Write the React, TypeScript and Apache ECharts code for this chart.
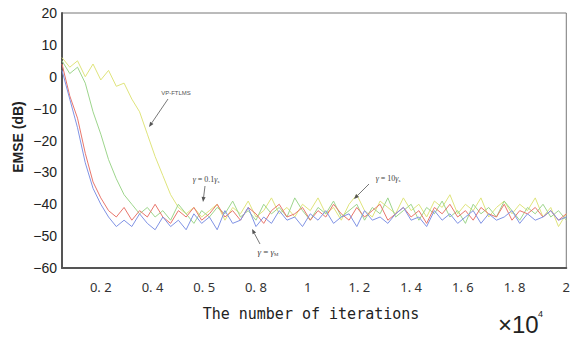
import React, { useEffect, useRef } from "react";
import * as echarts from "echarts";

// iterations axis (×10^4)
const iterStart = 0.05;
const iterStep = 0.03;
const xTickValues = [0.2, 0.4, 0.6, 0.8, 1.0, 1.2, 1.4, 1.6, 1.8, 2.0];
const xTickLabels = ["0. 2", "0. 4", "0. 5", "0. 8", "1", "1. 2", "1. 4", "1. 6", "1. 8", "2"];

const redValues = [
  4, -6, -13, -24, -33, -38, -42, -44,
  -41, -45, -42, -44, -40, -44, -46, -42, -44, -41,
  -45, -43, -40, -44, -42, -45, -41, -43, -46, -42,
  -40, -44, -43, -41, -45, -42, -44, -40, -43, -45,
  -41, -44, -42, -40, -45, -43, -41, -44, -42, -46,
  -41, -43, -40, -44, -42, -45, -41, -43, -44, -40,
  -45, -42, -43, -41, -44, -42, -45, -43,
];
const blueValues = [
  2, -7, -16, -27, -35, -40, -44, -47,
  -45, -47, -43, -46, -48, -44, -47, -45, -48, -43,
  -46, -44, -48, -42, -46, -45, -41, -47, -44, -46,
  -42, -45, -44, -47, -43, -45, -42, -46, -44, -43,
  -47, -42, -45, -44, -46, -43, -41, -45, -44, -47,
  -42, -45, -43, -46, -44, -42, -46, -43, -45, -44,
  -42, -46, -43, -45, -44, -42, -45, -44,
];
const greenValues = [
  5, 1, 3, -2, -11, -18, -26, -32, -37, -40, -43,
  -41, -44, -42, -45, -40, -43, -46, -42, -44, -41,
  -43, -39, -44, -42, -45, -40, -43, -41, -44, -38,
  -42, -45, -41, -43, -39, -44, -42, -40, -45, -41,
  -43, -38, -44, -42, -40, -45, -41, -43, -39, -44,
  -42, -46, -40, -43, -41, -44, -39, -42, -45, -41,
  -43, -40, -44, -42, -45,
];
const yellowValues = [
  6, 3, 5, 0, 4, -1, 2, -3, -2, -7, -11, -18, -25, -31, -37, -41, -43,
  -41, -44, -42, -40, -45, -41, -43, -39, -44, -42,
  -38, -43, -41, -44, -40, -42, -38, -43, -41, -45,
  -40, -37, -42, -44, -39, -41, -43, -38, -42, -40,
  -44, -39, -41, -37, -43, -40, -42, -38, -44, -41,
  -39, -43, -40, -42, -38, -44, -41, -47, -43,
];

const seriesDefs = [
  { name: "VP-FTLMS", values: yellowValues, color: "#dfe47c" },
  { name: "γ=10γs", values: greenValues, color: "#9dd58c" },
  { name: "γ=0.1γs", values: redValues, color: "#e8766c" },
  { name: "γ=γM", values: blueValues, color: "#8093e4" },
];

const toPairs = (vals: number[]) =>
  vals.map((v, i) => [+(iterStart + i * iterStep).toFixed(3), v]);

function arrow(x1: number, y1: number, x2: number, y2: number) {
  const ang = Math.atan2(y2 - y1, x2 - x1);
  const L = 5, W = 2;
  const bx = x2 - L * Math.cos(ang), by = y2 - L * Math.sin(ang);
  const px = -Math.sin(ang) * W, py = Math.cos(ang) * W;
  return [
    { type: "line", shape: { x1, y1, x2: bx, y2: by }, style: { stroke: "#555", lineWidth: 0.8 }, z: 20 },
    {
      type: "polygon",
      shape: { points: [[x2, y2], [bx + px, by + py], [bx - px, by - py]] },
      style: { fill: "#555" },
      z: 20,
    },
  ];
}

const gammaRich = {
  g: { fontFamily: "Liberation Serif", fontStyle: "italic", fontSize: 8, fill: "#444" },
  t: { fontFamily: "Liberation Serif", fontSize: 8, fill: "#444" },
  s: { fontFamily: "Liberation Serif", fontSize: 5, fill: "#444", padding: [4, 0, 0, 0] },
};

export default function App() {
  const ref = useRef<HTMLDivElement>(null);
  useEffect(() => {
    if (!ref.current) return;
    const chart = echarts.init(ref.current, undefined, { renderer: "svg" });
    chart.setOption({
      animation: false,
      backgroundColor: "#ffffff",
      grid: {
        left: 62, top: 13, right: 1, bottom: 70,
        show: true, borderColor: "#777", borderWidth: 1,
      },
      xAxis: {
        type: "value",
        min: iterStart,
        max: 2.0,
        axisLine: { show: true, onZero: false, lineStyle: { color: "#555", width: 2 } },
        axisTick: { show: false },
        splitLine: { show: false },
        axisLabel: {
          customValues: xTickValues,
          margin: 12,
          fontFamily: "Noto Sans",
          fontSize: 13,
          color: "#333",
          formatter: (v: number) => {
            const k = xTickValues.findIndex((t) => Math.abs(t - v) < 1e-6);
            return k >= 0 ? xTickLabels[k] : "";
          },
        },
      },
      yAxis: {
        type: "value",
        min: -60,
        max: 20,
        interval: 10,
        axisLine: { show: true, onZero: false, lineStyle: { color: "#555", width: 2 } },
        axisTick: { show: false },
        splitLine: { show: false },
        axisLabel: {
          margin: 5,
          fontFamily: "Liberation Sans",
          fontSize: 14,
          color: "#222",
          formatter: (v: number) => String(v).replace("-", "\u2212"),
        },
      },
      series: seriesDefs.map((s) => ({
        type: "line",
        name: s.name,
        data: toPairs(s.values),
        symbol: "none",
        silent: true,
        lineStyle: { color: s.color, width: 1 },
      })),
      graphic: [
        {
          type: "text", x: 18, y: 137, rotation: Math.PI / 2,
          style: {
            text: "EMSE (dB)", fontFamily: "Liberation Sans", fontWeight: "bold",
            fontSize: 14, fill: "#222", align: "center", verticalAlign: "middle",
          },
        },
        {
          type: "text", x: 311, y: 314,
          style: {
            text: "The number of iterations", fontFamily: "DejaVu Sans Mono",
            fontSize: 15, fill: "#222", align: "center", verticalAlign: "middle",
          },
        },
        {
          type: "text", x: 498, y: 324,
          style: {
            text: "×10", fontFamily: "Liberation Sans", fontSize: 24, fill: "#222",
            align: "left", verticalAlign: "middle",
          },
        },
        {
          type: "text", x: 538, y: 314,
          style: {
            text: "4", fontFamily: "Liberation Sans", fontSize: 9, fill: "#222",
            align: "left", verticalAlign: "middle",
          },
        },
        {
          type: "text", x: 176, y: 93,
          style: {
            text: "VP-FTLMS", fontFamily: "Liberation Sans", fontSize: 6, fill: "#555",
            align: "center", verticalAlign: "middle",
          },
        },
        ...arrow(168, 99, 149, 127),
        {
          type: "text", x: 206, y: 179,
          style: {
            text: "{g|γ}{t| = 0.1}{g|γ}{s|s}", rich: gammaRich,
            align: "center", verticalAlign: "middle",
          },
        },
        ...arrow(205, 186, 203, 202),
        {
          type: "text", x: 388, y: 178,
          style: {
            text: "{g|γ}{t| = 10}{g|γ}{s|s}", rich: gammaRich,
            align: "center", verticalAlign: "middle",
          },
        },
        ...arrow(369, 184, 354, 199),
        {
          type: "text", x: 268, y: 252,
          style: {
            text: "{g|γ}{t| = }{g|γ}{s|M}", rich: {
              ...gammaRich,
              g: { ...gammaRich.g, fontSize: 9 },
              t: { ...gammaRich.t, fontSize: 9 },
            },
            align: "center", verticalAlign: "middle",
          },
        },
        ...arrow(260, 244, 252, 229),
      ],
    });
    return () => chart.dispose();
  }, []);
  return (
    <div
      ref={ref}
      style={{ position: "fixed", left: 0, top: 0, width: 573, height: 338 }}
    />
  );
}
